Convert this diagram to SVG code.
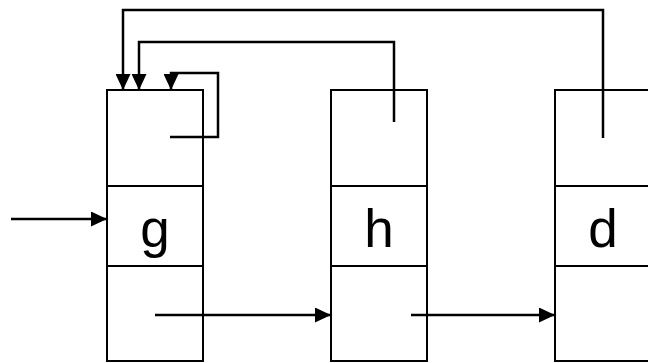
<svg xmlns="http://www.w3.org/2000/svg" width="648" height="363" viewBox="0 0 648 363">
<style>
.box{fill:none;stroke:#000;stroke-width:2}
.ln{fill:none;stroke:#000;stroke-width:2.5}
.lbl{font-family:"Liberation Sans",Arial,sans-serif;font-size:53px;text-anchor:middle;fill:#000}
</style>
<defs>
<marker id="ah" markerWidth="16" markerHeight="15" refX="16" refY="7.5" orient="auto" markerUnits="userSpaceOnUse">
<path d="M0,0 L16,7.5 L0,15 Z" fill="#000"/>
</marker>
</defs>
<rect width="648" height="363" fill="#fff"/>
<g id="node-g">
<rect class="box" x="107" y="90" width="96" height="271"/>
<line class="box" x1="107" y1="186" x2="203" y2="186"/>
<line class="box" x1="107" y1="266" x2="203" y2="266"/>
<text class="lbl" x="155" y="247">g</text>
</g>
<g id="node-h">
<rect class="box" x="331" y="90" width="96" height="271"/>
<line class="box" x1="331" y1="186" x2="427" y2="186"/>
<line class="box" x1="331" y1="266" x2="427" y2="266"/>
<text class="lbl" x="379" y="247">h</text>
</g>
<g id="node-d">
<rect class="box" x="555" y="90" width="100" height="271"/>
<line class="box" x1="555" y1="186" x2="655" y2="186"/>
<line class="box" x1="555" y1="266" x2="655" y2="266"/>
<text class="lbl" x="603" y="247">d</text>
</g>
<g id="connectors">
<polyline class="ln" points="603,138 603,10 123,10 123,90" marker-end="url(#ah)"/>
<polyline class="ln" points="394,122 394,42 139,42 139,90" marker-end="url(#ah)"/>
<polyline class="ln" points="170,137 218,137 218,73 171,73 171,90" marker-end="url(#ah)"/>
<line class="ln" x1="11" y1="219" x2="107" y2="219" marker-end="url(#ah)"/>
<line class="ln" x1="155" y1="315" x2="331" y2="315" marker-end="url(#ah)"/>
<line class="ln" x1="411" y1="315" x2="555" y2="315" marker-end="url(#ah)"/>
</g>
</svg>
